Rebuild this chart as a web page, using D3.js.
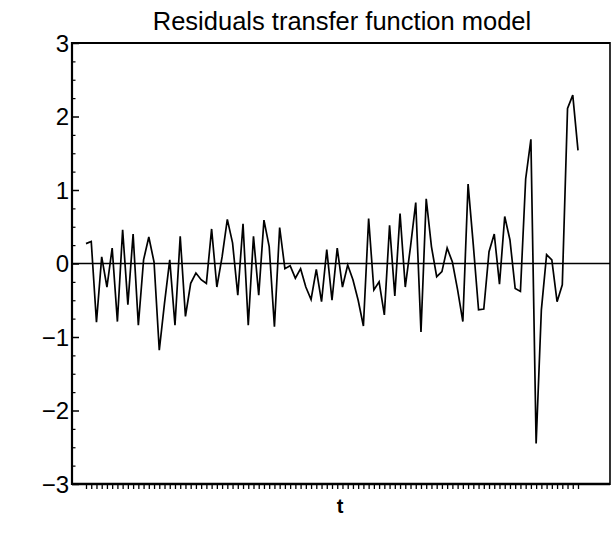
<!DOCTYPE html>
<html>
<head>
<meta charset="utf-8">
<script src="https://cdn.jsdelivr.net/npm/d3@7"></script>
<style>
  html, body { margin: 0; padding: 0; background: #fff; }
  svg { display: block; }
  text { font-family: "Liberation Sans", Arial, Helvetica, sans-serif; fill: #000; }
</style>
</head>
<body>
<svg id="chart" width="612" height="533"></svg>
<script>
// ---- data ----
const title = "Residuals transfer function model";
const xLabel = "t";
const yTickValues = [-3, -2, -1, 0, 1, 2, 3];
const yTickLabels = ["\u22123", "\u22122", "\u22121", "0", "1", "2", "3"];
const residuals = [
  0.27, 0.30, -0.80, 0.09, -0.32, 0.21, -0.79, 0.46, -0.56, 0.40,
  -0.84, 0.05, 0.36, 0.02, -1.18, -0.54, 0.05, -0.84, 0.37, -0.72,
  -0.27, -0.13, -0.22, -0.27, 0.47, -0.32, 0.09, 0.60, 0.28, -0.43,
  0.54, -0.84, 0.37, -0.43, 0.59, 0.23, -0.86, 0.49, -0.07, -0.03,
  -0.20, -0.07, -0.32, -0.49, -0.08, -0.52, 0.19, -0.50, 0.21, -0.32,
  -0.02, -0.22, -0.50, -0.85, 0.61, -0.36, -0.25, -0.70, 0.52, -0.44,
  0.68, -0.32, 0.23, 0.83, -0.93, 0.88, 0.23, -0.18, -0.11, 0.21,
  0.02, -0.36, -0.79, 1.08, 0.25, -0.63, -0.62, 0.16, 0.40, -0.28,
  0.64, 0.32, -0.34, -0.38, 1.15, 1.69, -2.45, -0.63, 0.12, 0.05,
  -0.52, -0.29, 2.11, 2.29, 1.54
];
const t = residuals.map((_, i) => i);

// ---- layout ----
const svg = d3.select("#chart");
const box = { left: 72, right: 610, top: 43, bottom: 484 };

const x = d3.scaleLinear().domain([0, residuals.length - 1]).range([86, 578]);
const y = d3.scaleLinear().domain([-3, 3]).range([box.bottom, box.top]);

// title
svg.append("text")
  .attr("x", 342).attr("y", 30)
  .attr("text-anchor", "middle")
  .attr("font-size", 25.5)
  .text(title);

// y axis: major ticks (inside)
const yAxis = d3.axisRight(y)
  .tickValues(yTickValues)
  .tickSize(7)
  .tickFormat("");
const gy = svg.append("g").attr("transform", `translate(${box.left},0)`).call(yAxis);
gy.select(".domain").remove();
gy.selectAll(".tick line").attr("stroke", "#000").attr("stroke-width", 1.5);

// minor ticks every 0.25
const minorVals = d3.range(-3, 3.001, 0.25).filter(v => Math.abs(v - Math.round(v)) > 1e-6);
const yMinor = d3.axisRight(y).tickValues(minorVals).tickSize(3.5).tickFormat("");
const gym = svg.append("g").attr("transform", `translate(${box.left},0)`).call(yMinor);
gym.select(".domain").remove();
gym.selectAll(".tick line").attr("stroke", "#000").attr("stroke-width", 1.2);

// y tick labels
svg.append("g").selectAll("text")
  .data(yTickValues)
  .join("text")
  .attr("x", 69)
  .attr("y", d => y(d))
  .attr("dy", "0.36em")
  .attr("text-anchor", "end")
  .attr("font-size", 24)
  .text((d, i) => yTickLabels[i]);

// x axis ticks (below bottom line, one per observation)
const xAxis = d3.axisBottom(x).tickValues(t).tickSize(4).tickFormat("");
const gx = svg.append("g").attr("transform", `translate(0,${box.bottom + 1})`).call(xAxis);
gx.select(".domain").remove();
gx.selectAll(".tick line").attr("stroke", "#000").attr("stroke-width", 1.3);

// x label
svg.append("text")
  .attr("x", 340).attr("y", 513)
  .attr("text-anchor", "middle")
  .attr("font-size", 20)
  .attr("font-weight", "bold")
  .text(xLabel);

// frame
svg.append("line").attr("x1", box.left).attr("x2", box.right).attr("y1", box.top).attr("y2", box.top)
  .attr("stroke", "#000").attr("stroke-width", 2.2);
svg.append("line").attr("x1", box.left).attr("x2", box.right).attr("y1", box.bottom).attr("y2", box.bottom)
  .attr("stroke", "#000").attr("stroke-width", 2.6);
svg.append("line").attr("x1", box.left).attr("x2", box.left).attr("y1", box.top - 1).attr("y2", box.bottom + 1)
  .attr("stroke", "#000").attr("stroke-width", 2.2);
svg.append("line").attr("x1", box.right).attr("x2", box.right).attr("y1", box.top - 1).attr("y2", box.bottom + 1)
  .attr("stroke", "#000").attr("stroke-width", 1.6);

// zero line
svg.append("line").attr("x1", box.left).attr("x2", box.right).attr("y1", y(0)).attr("y2", y(0))
  .attr("stroke", "#000").attr("stroke-width", 1.6);

// residual series
const line = d3.line().x((d, i) => x(t[i])).y(d => y(d));
svg.append("path")
  .datum(residuals)
  .attr("d", line)
  .attr("fill", "none")
  .attr("stroke", "#000")
  .attr("stroke-width", 1.7)
  .attr("stroke-linejoin", "miter");
</script>
</body>
</html>
